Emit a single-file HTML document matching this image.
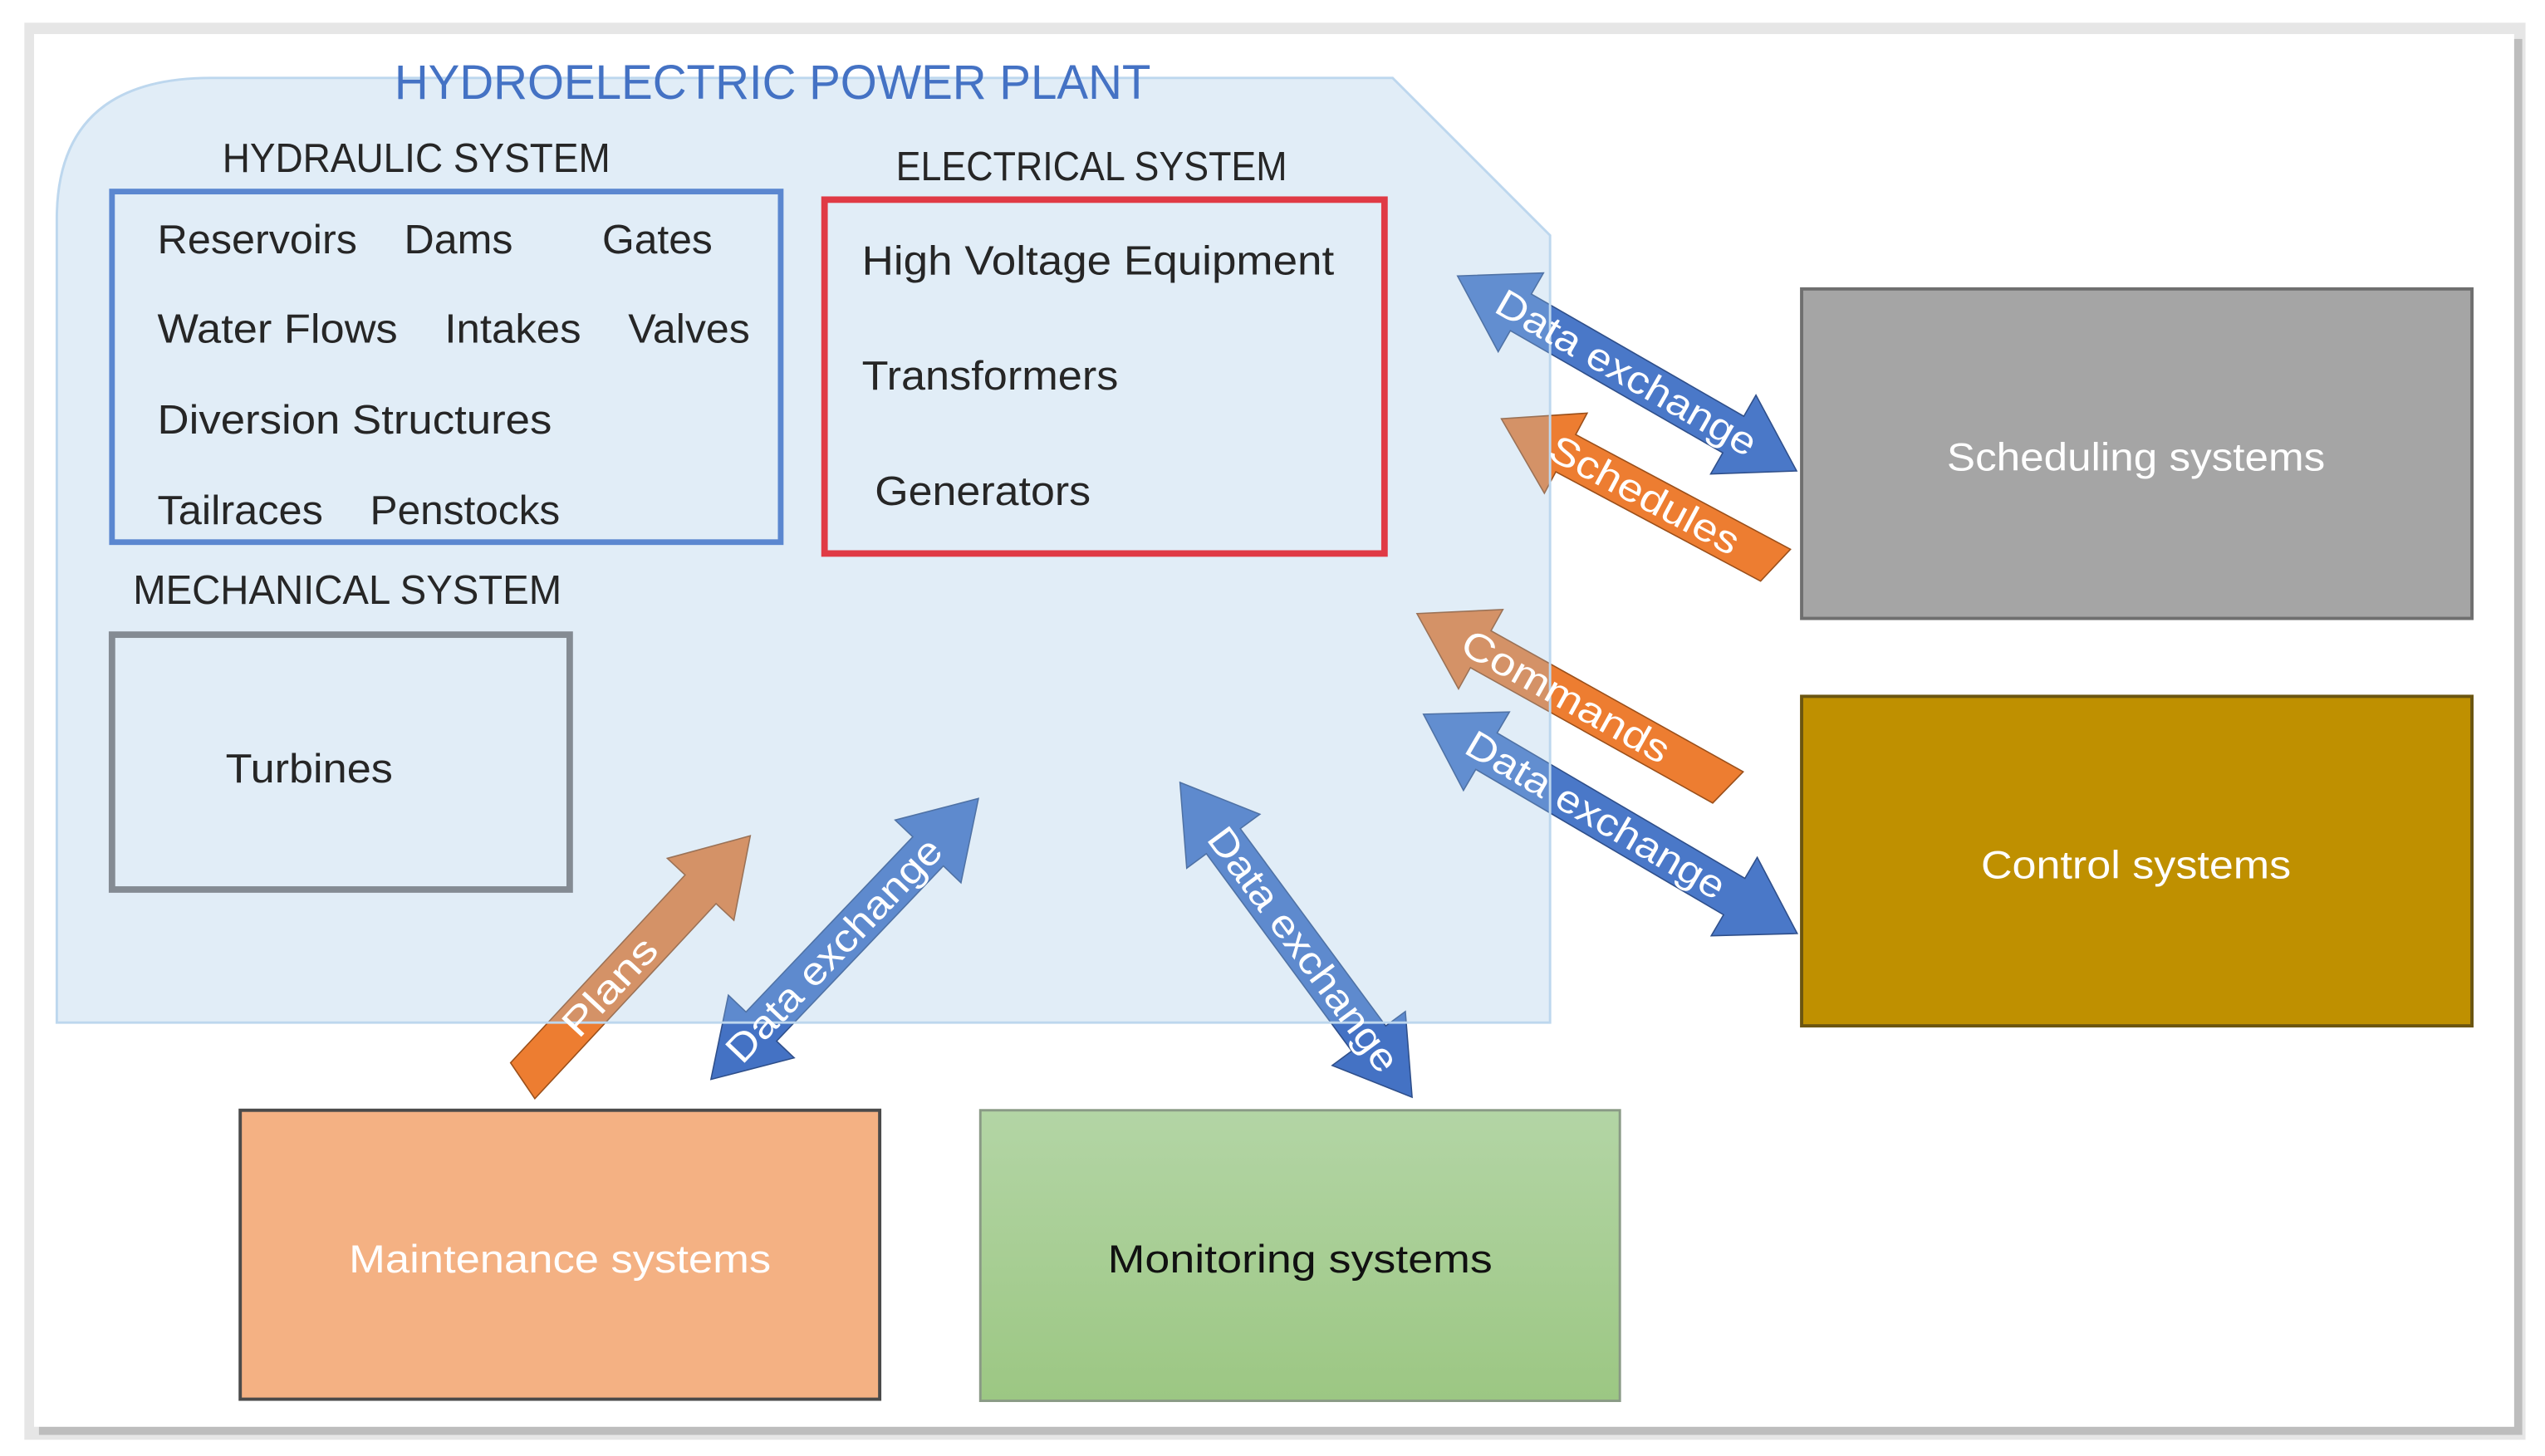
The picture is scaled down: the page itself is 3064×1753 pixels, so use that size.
<!DOCTYPE html>
<html><head><meta charset="utf-8"><style>
html,body{margin:0;padding:0;background:#fff;}
svg{display:block;}
text{font-family:"Liberation Sans",sans-serif;}
</style></head><body>
<svg width="3064" height="1753" viewBox="0 0 1568 897" preserveAspectRatio="none" xmlns="http://www.w3.org/2000/svg">
<rect x="0" y="0" width="1568" height="897" fill="#fff"/>
<rect x="15" y="14" width="1541" height="873" fill="#e6e6e6"/>
<rect x="24" y="24" width="1530" height="860" fill="#bdbdbd"/>
<rect x="21" y="21" width="1528" height="858" fill="#fff"/>

<!-- boxes outside plant -->
<rect x="1110" y="178" width="413" height="203" fill="#a5a5a5" stroke="#6f6f6f" stroke-width="2"/>
<text x="1316" y="290" font-size="24" fill="#fff" text-anchor="middle" textLength="233" lengthAdjust="spacingAndGlyphs">Scheduling systems</text>
<rect x="1110" y="429" width="413" height="203" fill="#bf9000" stroke="#6b5510" stroke-width="2"/>
<text x="1316" y="541" font-size="24" fill="#fff" text-anchor="middle" textLength="191" lengthAdjust="spacingAndGlyphs">Control systems</text>
<rect x="148" y="684" width="394" height="178" fill="#f4b183" stroke="#4a4a4a" stroke-width="2"/>
<text x="345" y="784" font-size="24" fill="#fff" text-anchor="middle" textLength="260" lengthAdjust="spacingAndGlyphs">Maintenance systems</text>
<defs><linearGradient id="gr" x1="0" y1="0" x2="0" y2="1"><stop offset="0" stop-color="#b3d5a5"/><stop offset="1" stop-color="#9cc783"/></linearGradient></defs>
<rect x="604" y="684" width="394" height="179" fill="url(#gr)" stroke="#8a9a86" stroke-width="1.5"/>
<text x="801" y="784" font-size="24" fill="#111" text-anchor="middle" textLength="237" lengthAdjust="spacingAndGlyphs">Monitoring systems</text>

<!-- arrows: double -->
<g stroke="#2f4f8a" stroke-width="0.8">
<g transform="translate(898,170) rotate(29.9)">
<polygon points="0,0 45,-28 45,-13 196,-13 196,-28 241,0 196,28 196,13 45,13 45,28" fill="#4a78c8"/>
</g>
<g transform="translate(877,440) rotate(30.4)">
<polygon points="0,0 45,-28 45,-13 222,-13 222,-28 267,0 222,28 222,13 45,13 45,28" fill="#4a78c8"/>
</g>
<g transform="translate(438,665) rotate(-46.4)">
<polygon points="0,0 45,-28 45,-13 194,-13 194,-28 239,0 194,28 194,13 45,13 45,28" fill="#4472c4"/>
</g>
<g transform="translate(727,482) rotate(53.6)">
<polygon points="0,0 45,-28 45,-13 196,-13 196,-28 241,0 196,28 196,13 45,13 45,28" fill="#4472c4"/>
</g>
</g>
<g stroke="#9a4f1a" stroke-width="0.8" fill="#ed7d31">
<g transform="translate(925,258) rotate(28.1)"><polygon points="0,0 45,-28 45,-13 195,-13 188,13 45,13 45,28"/></g>
<g transform="translate(873,378) rotate(29.2)"><polygon points="0,0 45,-28 45,-13 223,-13 216,13 45,13 45,28"/></g>
<g transform="translate(320,668) rotate(-47.1)"><polygon points="0,13 6,-13 164,-13 164,-28 209,0 164,28 164,13"/></g>
</g>

<!-- plant region overlay -->
<path d="M35,630 L35,135 Q35,48 130,48 L858,48 L955,145 L955,630 Z" fill="#9dc3e6" fill-opacity="0.3" stroke="#bdd7ee" stroke-width="1.5"/>

<!-- arrow labels -->
<g fill="#fff" font-size="24">
<text transform="translate(898,170) rotate(29.9)" x="120" y="8" text-anchor="middle" textLength="181" lengthAdjust="spacingAndGlyphs">Data exchange</text>
<text transform="translate(877,440) rotate(30.4)" x="123" y="8" text-anchor="middle" textLength="181" lengthAdjust="spacingAndGlyphs">Data exchange</text>
<text transform="translate(438,665) rotate(-46.4)" x="110" y="8" text-anchor="middle" textLength="181" lengthAdjust="spacingAndGlyphs">Data exchange</text>
<text transform="translate(727,482) rotate(53.6)" x="128" y="8" text-anchor="middle" textLength="181" lengthAdjust="spacingAndGlyphs">Data exchange</text>
<text transform="translate(925,258) rotate(28.1)" x="100" y="8" text-anchor="middle" textLength="129" lengthAdjust="spacingAndGlyphs">Schedules</text>
<text transform="translate(873,378) rotate(29.2)" x="105" y="8" text-anchor="middle" textLength="143" lengthAdjust="spacingAndGlyphs">Commands</text>
<text transform="translate(320,668) rotate(-47.1)" x="82" y="8" text-anchor="middle" textLength="74" lengthAdjust="spacingAndGlyphs">Plans</text>
</g>

<!-- plant contents -->
<text x="476" y="61" font-size="30" fill="#4472c4" text-anchor="middle" textLength="466" lengthAdjust="spacingAndGlyphs">HYDROELECTRIC POWER PLANT</text>
<g fill="#262626" font-size="25">
<text x="137" y="106" textLength="239" lengthAdjust="spacingAndGlyphs">HYDRAULIC SYSTEM</text>
<text x="552" y="111" textLength="241" lengthAdjust="spacingAndGlyphs">ELECTRICAL SYSTEM</text>
<text x="82" y="372" textLength="264" lengthAdjust="spacingAndGlyphs">MECHANICAL SYSTEM</text>
<text x="97" y="156" textLength="123" lengthAdjust="spacingAndGlyphs">Reservoirs</text>
<text x="249" y="156" textLength="67" lengthAdjust="spacingAndGlyphs">Dams</text>
<text x="371" y="156" textLength="68" lengthAdjust="spacingAndGlyphs">Gates</text>
<text x="97" y="211" textLength="148" lengthAdjust="spacingAndGlyphs">Water Flows</text>
<text x="274" y="211" textLength="84" lengthAdjust="spacingAndGlyphs">Intakes</text>
<text x="387" y="211" textLength="75" lengthAdjust="spacingAndGlyphs">Valves</text>
<text x="97" y="267" textLength="243" lengthAdjust="spacingAndGlyphs">Diversion Structures</text>
<text x="97" y="323" textLength="102" lengthAdjust="spacingAndGlyphs">Tailraces</text>
<text x="228" y="323" textLength="117" lengthAdjust="spacingAndGlyphs">Penstocks</text>
<text x="531" y="169" textLength="291" lengthAdjust="spacingAndGlyphs">High Voltage Equipment</text>
<text x="531" y="240" textLength="158" lengthAdjust="spacingAndGlyphs">Transformers</text>
<text x="539" y="311" textLength="133" lengthAdjust="spacingAndGlyphs">Generators</text>
<text x="139" y="482" textLength="103" lengthAdjust="spacingAndGlyphs">Turbines</text>
</g>
<rect x="69" y="118" width="412" height="216" fill="none" stroke="#5b87d0" stroke-width="3.5"/>
<rect x="508" y="123" width="345" height="218" fill="none" stroke="#e03a45" stroke-width="4"/>
<rect x="69" y="391" width="282" height="157" fill="none" stroke="#848b93" stroke-width="4"/>
</svg>
</body></html>
